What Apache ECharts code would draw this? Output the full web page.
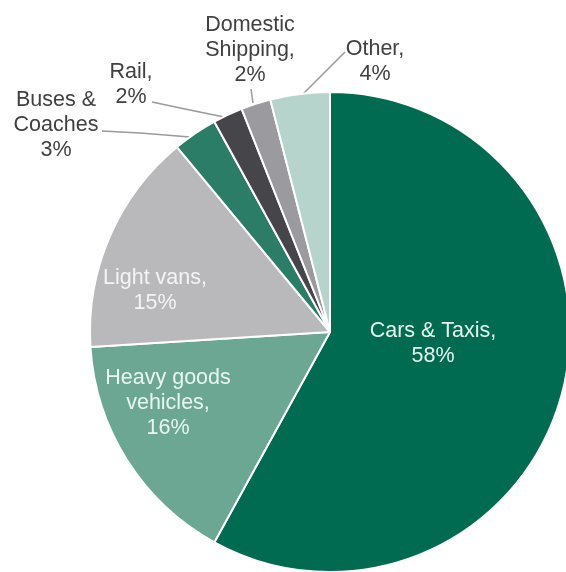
<!DOCTYPE html>
<html>
<head>
<meta charset="utf-8">
<script src="https://cdn.jsdelivr.net/npm/echarts@6/dist/echarts.min.js"></script>
<style>
  html, body { margin: 0; padding: 0; background: #ffffff; }
  #chart { width: 566px; height: 572px; }
</style>
</head>
<body>
<div id="chart"></div>
<script>
// Share of domestic transport emissions by mode (%)
const categories = ['Cars & Taxis', 'Heavy goods vehicles', 'Light vans', 'Buses & Coaches', 'Rail', 'Domestic Shipping', 'Other'];
const shares = [58, 16, 15, 3, 2, 2, 4];
// Label text (with line breaks as printed)
const labelTexts = ['Cars & Taxis,\n58%', 'Heavy goods\nvehicles,\n16%', 'Light vans,\n15%', 'Buses &\nCoaches\n3%', 'Rail,\n2%', 'Domestic\nShipping,\n2%', 'Other,\n4%'];

const sliceColors = ['#006b50', '#6ca794', '#b9b8bb', '#2b7d67', '#45454a', '#9b9a9f', '#b6d4cc'];
const insideSlices = [true, true, true, false, false, false, false];
const insideTextColors = ['#e4f6ef', '#e8f6f1', '#f4f4f6'];

// Label anchor points and guide lines, in pixels
const labelSpots = [[433, 344], [168, 403], [155, 291], [56, 125], [131, 85], [250, 50], [375, 62]];
const guideLines = [null, null, null,
  [[190, 137], [140, 133], [102, 131]],
  [[224, 117], [185, 109], [152, 102]],
  [[253, 103], [252, 96], [251, 89]],
  [[300, 97], [322, 75], [345, 52]]];

const chart = echarts.init(document.getElementById('chart'), null, { renderer: 'canvas' });

const data = categories.map((name, i) => ({
  name: name,
  value: shares[i],
  itemStyle: { color: sliceColors[i] },
  label: {
    position: insideSlices[i] ? 'inside' : 'outside',
    color: insideSlices[i] ? insideTextColors[i] : '#404040'
  },
  labelLine: { show: !insideSlices[i] }
}));

chart.setOption({
  backgroundColor: '#ffffff',
  animation: false,
  series: [{
    type: 'pie',
    center: [330, 332],
    radius: 240,
    startAngle: 90,
    clockwise: true,
    avoidLabelOverlap: false,
    data: data,
    itemStyle: { borderColor: '#ffffff', borderWidth: 2 },
    label: {
      show: true,
      formatter: (p) => labelTexts[p.dataIndex],
      fontFamily: 'Liberation Sans, Arial, sans-serif',
      fontSize: 21.5,
      lineHeight: 25,
      align: 'center'
    },
    labelLine: {
      show: true,
      lineStyle: { color: '#9a9a9a', width: 1.5 }
    },
    labelLayout: (params) => {
      const i = params.dataIndex;
      const out = {
        x: labelSpots[i][0],
        y: labelSpots[i][1],
        align: 'center',
        verticalAlign: 'middle'
      };
      if (guideLines[i]) out.labelLinePoints = guideLines[i];
      return out;
    }
  }]
});
</script>
</body>
</html>
